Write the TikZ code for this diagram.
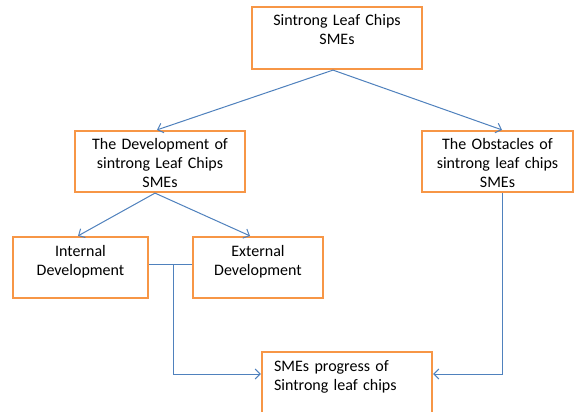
\documentclass[tikz,border=0pt]{standalone}
\usepackage{fontspec}
\setmainfont{Carlito}
\usetikzlibrary{arrows.meta,calc}
\definecolor{boxorange}{RGB}{247,150,70}
\definecolor{linkblue}{RGB}{79,129,189}
\begin{document}
\begin{tikzpicture}[x=1pt,y=-1pt,
  boxshape/.style={draw=boxorange, line width=2.2pt, fill=white, inner sep=0pt},
  lbl/.style={font=\fontsize{16}{19}\selectfont, inner sep=0pt, text height=13pt, align=center},
  link/.style={draw=linkblue, line width=1pt, -{Straight Barb[length=5pt,width=10pt]}},
  plainlink/.style={draw=linkblue, line width=1pt}]
\useasboundingbox[fill=white] (0,0) rectangle (581,412);
% boxes
\node[boxshape, minimum width=170pt, minimum height=62pt] (top) at (337,38) {};
\node[boxshape, minimum width=170pt, minimum height=61pt] (dev) at (160,161.5) {};
\node[boxshape, minimum width=151pt, minimum height=61pt] (obs) at (497.5,161.5) {};
\node[boxshape, minimum width=135pt, minimum height=61pt] (int) at (80.5,267.5) {};
\node[boxshape, minimum width=130pt, minimum height=61pt] (ext) at (258,267.5) {};
\node[boxshape, minimum width=170pt, minimum height=62pt] (smes) at (347,383) {};
% texts
\node[lbl, text width=165pt, anchor=north] (topt) at ($(top.north)+(0,6)$) {Sintrong Leaf Chips\\SMEs};
\node[lbl, text width=165pt, anchor=north] (devt) at ($(dev.north)+(0,6)$) {The Development of\\sintrong Leaf Chips\\SMEs};
\node[lbl, text width=146pt, anchor=north] (obst) at ($(obs.north)+(0,6)$) {The Obstacles of\\sintrong leaf chips\\SMEs};
\node[lbl, text width=130pt, anchor=north] (intt) at ($(int.north)+(0,7)$) {Internal\\Development};
\node[lbl, text width=125pt, anchor=north] (extt) at ($(ext.north)+(0,7)$) {External\\Development};
\node[lbl, text width=150pt, align=left, anchor=north west] (smest) at ($(smes.north west)+(13,7)$) {SMEs progress of\\Sintrong leaf chips};
% connectors
\draw[link] ($(top.south)+(-4,0)$) -- ($(dev.north)+(-3,0)$);
\draw[link] ($(top.south)+(-4,0)$) -- ($(obs.north)+(4.5,0)$);
\draw[link] ($(dev.south)+(-5,0)$) -- ($(int.north)+(-2.5,0)$);
\draw[link] ($(dev.south)+(-5,0)$) -- ($(ext.north)+(-8,0)$);
\draw[plainlink] ($(int.east)+(0,-3.5)$) -- ($(ext.west)+(0,-3.5)$);
\coordinate (j) at (173,264);
\draw[link] (j) |- ($(smes.west)+(0,-9)$);
\draw[link] ($(obs.south)+(4.5,0)$) |- ($(smes.east)+(0,-9)$);
\end{tikzpicture}
\end{document}
